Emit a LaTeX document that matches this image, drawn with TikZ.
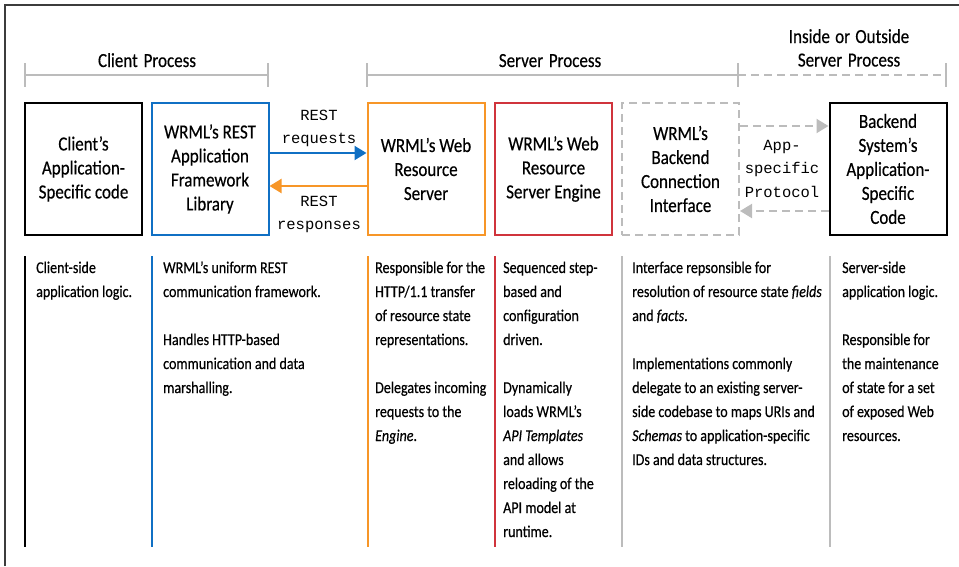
\documentclass[tikz,border=0pt]{standalone}
\usepackage{fontspec}
\setmainfont{Carlito}[FakeStretch=0.85,FakeBold=0.4]
\setmonofont{Liberation Mono}
\usetikzlibrary{arrows.meta}
\definecolor{wblue}{RGB}{16,112,196}
\definecolor{worange}{RGB}{247,150,40}
\definecolor{wred}{RGB}{208,52,60}
\definecolor{wgrey}{RGB}{188,188,188}
\definecolor{wframe}{RGB}{60,60,60}
\tikzset{
  tightspace/.style={execute at begin node={\spaceskip=0pt\xspaceskip=0pt}},
  box/.style={draw=#1,line width=2pt,minimum width=117pt,minimum height=132pt,inner sep=0pt,align=center,font=\fontsize{20}{24}\selectfont},
  desc/.style={anchor=base west,inner sep=0pt,text width=200pt,align=left,font=\fontsize{16.5}{24}\selectfont,tightspace},
  proc/.style={anchor=base,inner sep=0pt,text width=180pt,align=center,font=\fontsize{20}{23.5}\selectfont,tightspace},
  mono/.style={anchor=base,inner sep=0pt,text width=90pt,align=center,font=\ttfamily\fontsize{15.5}{23.5}\selectfont},
  bracket/.style={draw=wgrey,line width=2pt},
  colline/.style={draw=#1,line width=2.5pt},
  tip/.style={-{Triangle[length=12pt,width=14pt]}}
}

\begin{document}
\begin{tikzpicture}[x=1pt,y=-1pt]
            \useasboundingbox (0,0) rectangle (959,566);
            \draw[wframe,line width=1.5pt] (5,566) -- (5,5) -- (959,5);

            \node[proc] (clientproc) at (147,67) {Client Process};
            \node[proc] (serverproc) at (550,67) {Server Process};
            \node[proc] (anyproc) at (849,43) {Inside or Outside\\Server Process};
            \draw[bracket] (25,63) -- (25,87) (25,75) -- (268,75) (268,63) -- (268,87);
            \draw[bracket] (367,63) -- (367,87) (367,75) -- (738,75) (738,63) -- (738,87);
            \draw[bracket,dash pattern=on 8pt off 5pt] (738,75) -- (946,75);
            \draw[bracket] (946,63) -- (946,87);

            \node[box=black] (clientcode) at (83.5,169) {Client's\\Application-\\Specific code};
            \node[box=wblue] (restlib) at (210,169) {WRML's REST\\Application\\Framework\\Library};
            \node[box=worange] (server) at (426,169) {WRML's Web\\Resource\\Server};
            \node[box=wred] (engine) at (553.5,169) {WRML's Web\\Resource\\Server Engine};
            \node[box=wgrey,dash pattern=on 8pt off 5pt] (backendif) at (680.5,169) {WRML's\\Backend\\Connection\\Interface};
            \node[box=black] (backend) at (888,169) {Backend\\System's\\Application-\\Specific\\Code};

            \draw[wblue,line width=2pt,tip] ([yshift=16pt]restlib.east) -- ([yshift=16pt]server.west);
            \draw[worange,line width=2pt,tip] ([yshift=-17pt]server.west) -- ([yshift=-17pt]restlib.east);
            \node[mono] (reqlabel) at (319,120) {REST\\requests};
            \node[mono] (resplabel) at (319,206) {REST\\responses};

            \draw[wgrey,line width=2pt,dash pattern=on 8pt off 5pt,tip] ([yshift=43pt]backendif.east) -- ([yshift=43pt]backend.west);
            \draw[wgrey,line width=2pt,dash pattern=on 8pt off 5pt,tip] ([yshift=-42pt]backend.west) -- ([yshift=-42pt]backendif.east);
            \node[mono] (protolabel) at (782,150) {App-\\specific\\Protocol};

            \draw[colline=black] (25,256) -- (25,547);
            \draw[colline=wblue] (152,256) -- (152,547);
            \draw[colline=worange] (368,256) -- (368,547);
            \draw[colline=wred] (495,256) -- (495,547);
            \draw[colline=wgrey] (622,256) -- (622,547);
            \draw[colline=wgrey] (830,256) -- (830,547);

            \node[desc] (clientdesc) at (36,273) {Client-side\\application logic.};
            \node[desc] (restlibdesc) at (163,273) {WRML's uniform REST\\communication framework.\\[24pt]Handles HTTP-based\\communication and data\\marshalling.};
            \node[desc] (serverdesc) at (375,273) {Responsible for the\\HTTP/1.1 transfer\\of resource state\\representations.\\[24pt]Delegates incoming\\requests to the\\\textit{Engine}.};
            \node[desc] (enginedesc) at (503,273) {Sequenced step-\\based and\\configuration\\driven.\\[24pt]Dynamically\\loads WRML's\\\textit{API Templates}\\and allows\\reloading of the\\API model at\\runtime.};
            \node[desc] (backendifdesc) at (632,273) {Interface repsonsible for\\resolution of resource state \textit{fields}\\and \textit{facts}.\\[24pt]Implementations commonly\\delegate to an existing server-\\side codebase to maps URIs and\\\textit{Schemas} to application-specific\\IDs and data structures.};
            \node[desc] (backenddesc) at (842,273) {Server-side\\application logic.\\[24pt]Responsible for\\the maintenance\\of state for a set\\of exposed Web\\resources.};
\end{tikzpicture}
\end{document}
